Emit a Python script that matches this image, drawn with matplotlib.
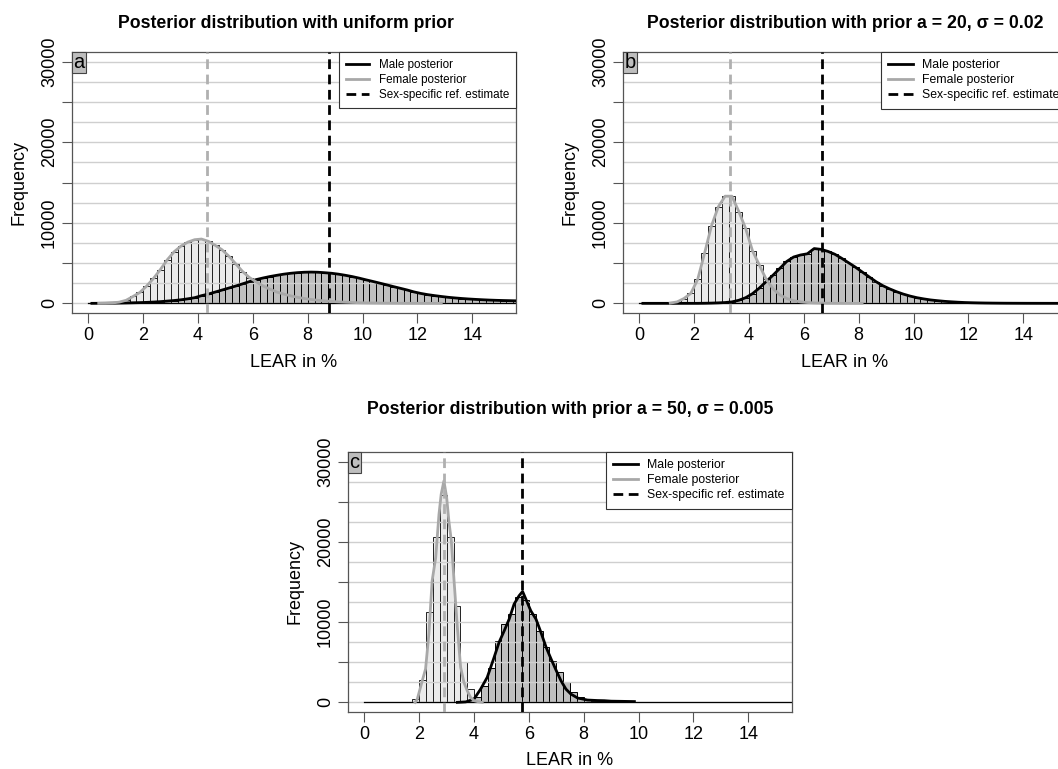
import numpy as np
import matplotlib.pyplot as plt
from matplotlib.lines import Line2D

plt.rcParams['font.family'] = ['Liberation Sans', 'DejaVu Sans']

# histogram counts, bin width 0.25 (LEAR in %), first bin left edge given by *_start
bw = 0.25

fem_a_start = 0.25
fem_a = [0, 10, 50, 150, 380, 850, 1350, 2150, 3100, 4200, 5400, 6400, 7100, 7600, 7900,
         7980, 7700, 7200, 6650, 5850, 4900, 3950, 3200, 2650, 2150, 1750, 1400, 1150, 930,
         750, 600, 480, 380, 300, 230, 180, 140, 105, 80, 60, 45, 35, 25, 18, 12, 8, 5, 3, 2, 1, 1]
male_a_start = 0.0
male_a = [0, 5, 10, 20, 35, 50, 70, 90, 120, 160, 210, 280, 350, 440, 560, 700,
          950, 1150, 1400, 1650, 1900, 2150, 2420, 2700, 2950, 3150, 3330, 3480, 3620, 3730,
          3810, 3860, 3880, 3860, 3800, 3730, 3620, 3480, 3320, 3130, 2920, 2720, 2510, 2300,
          2080, 1870, 1660, 1420, 1230, 1080, 960, 850, 750, 670, 600, 540, 490, 445, 405,
          375, 350, 330, 310, 295]

fem_b_start = 1.0
fem_b = [30, 180, 600, 1240, 2970, 6200, 9580, 11970, 13300, 13300, 11400, 9290, 6520,
         4750, 2970, 1800, 1050, 600, 330, 180, 100, 55, 30, 15, 8, 4, 2, 1, 1]
male_b_start = 0.0
male_b = [0, 0, 0, 0, 0, 0, 0, 0, 0, 10, 30, 60, 100, 180, 380, 700, 1200, 1900, 2700,
          3500, 4350, 5200, 5750, 6000, 6150, 6800, 6700, 6450, 6100, 5600, 5050, 4500, 3900,
          3300, 2700, 2200, 1800, 1450, 1150, 900, 700, 550, 420, 330, 250, 190, 140, 100, 75,
          55, 40, 30, 22, 16, 12, 9, 6, 5, 4, 3, 2, 2, 1, 1]

fem_c_start = 1.75
fem_c = [450, 2800, 11200, 20600, 25800, 20600, 12000, 5000, 1700, 300]
male_c_start = 0.0
male_c = [0, 0, 0, 0, 0, 0, 0, 0, 0, 0, 0, 0, 0, 20, 80, 250, 700, 2100, 4280, 7650, 9800,
          11000, 13070, 12740, 11000, 8920, 6850, 5190, 3730, 2490, 1250, 620, 300, 200, 150,
          120, 80, 60, 40, 20, 0, 0, 0, 0, 0, 0, 0, 0, 0, 0, 0, 0, 0, 0, 0, 0, 0, 0, 0, 0,
          0, 0, 0, 0]

# posterior density curves for panel c (frequency scale)
fem_c_line_x = [1.85, 1.93, 2.11, 2.23, 2.35, 2.47, 2.60, 2.72, 2.80, 2.90, 3.0, 3.08, 3.17,
                3.27, 3.39, 3.51, 3.63, 3.75, 3.87, 4.0, 4.15, 4.3]
fem_c_line_y = [0, 420, 2700, 4160, 8510, 15150, 18050, 23450, 25940, 27600, 25520, 22620,
                20130, 15150, 9340, 4360, 2490, 1460, 620, 210, 80, 0]
male_c_line_x = [3.39, 3.7, 4.0, 4.24, 4.48, 4.73, 4.91, 5.1, 5.28, 5.46, 5.64, 5.77, 5.89,
                 6.07, 6.26, 6.44, 6.63, 6.81, 7.0, 7.17, 7.35, 7.53, 7.78, 8.14, 8.5, 8.75,
                 9.0, 9.36, 9.85]
male_c_line_y = [0, 60, 420, 1660, 3120, 5600, 7470, 8920, 10370, 12240, 13280, 13820, 12860,
                 11410, 10370, 8720, 6850, 5400, 3950, 2700, 1660, 1040, 540, 290, 230, 210,
                 150, 130, 100]

# sex-specific reference estimates
ref_fem = [4.33, 3.32, 2.90]
ref_male = [8.76, 6.67, 5.76]

titles = ["Posterior distribution with uniform prior",
          "Posterior distribution with prior a = 20, σ = 0.02",
          "Posterior distribution with prior a = 50, σ = 0.005"]
letters = ["a", "b", "c"]
legend_labels = ["Male posterior", "Female posterior", "Sex-specific ref. estimate"]

W, H = 1058, 769
fig = plt.figure(figsize=(W / 100, H / 100), dpi=100)

def add_ax(left, top, right, bottom):
    return fig.add_axes([left / W, 1 - bottom / H, (right - left) / W, (bottom - top) / H])

boxes = [(72, 52, 516, 313), (623, 52, 1067, 313), (348, 452, 792, 712)]
title_xy = [(286, 28), (845, 28), (570, 414)]
leg_fs = [8.4, 8.8, 8.8]

fem_col = '#ebebeb'
male_col = '#bfbfbf'
fem_line = '#a8a8a8'
spine_col = '#555555'
dash = (0, (3.5, 2.0))

def poly(start, counts):
    x = start + bw * np.arange(len(counts)) + bw / 2
    return x, np.array(counts)

hist_data = [(fem_a_start, fem_a, male_a_start, male_a),
             (fem_b_start, fem_b, male_b_start, male_b),
             (fem_c_start, fem_c, male_c_start, male_c)]

for i, box in enumerate(boxes):
    ax = add_ax(*box)
    fs, fc, ms, mc = hist_data[i]
    ax.bar(fs + bw * np.arange(len(fc)), fc, width=bw, align='edge', color=fem_col,
           edgecolor='#222222', linewidth=0.7, zorder=1)
    ax.bar(ms + bw * np.arange(len(mc)), mc, width=bw, align='edge', color=male_col,
           edgecolor='black', linewidth=0.7, zorder=1.5)
    for g in np.arange(0, 30001, 2500):
        ax.axhline(g, color='#cfcfcf', lw=1.0, zorder=2)
    # bar bottoms (and empty bins) show as a flat black line along zero
    ax.plot([ms, ms + bw * len(mc)], [0, 0], color='black', lw=0.9, zorder=2.1)
    if i < 2:
        mx, my = poly(ms, mc)
        fx, fy = poly(fs, fc)
    else:
        mx, my = male_c_line_x, male_c_line_y
        fx, fy = fem_c_line_x, fem_c_line_y
    ax.plot(mx, my, color='black', lw=2.0, zorder=3, solid_joinstyle='round')
    ax.plot(fx, fy, color=fem_line, lw=2.0, zorder=3.1, solid_joinstyle='round')
    ax.axvline(ref_fem[i], color='#b0b0b0', lw=2.0, ls=dash, zorder=3.2)
    ax.axvline(ref_male[i], color='black', lw=2.0, ls=dash, zorder=3.3)

    ax.set_xlim(-0.6, 15.6)
    ax.set_ylim(-1200, 31200)
    ax.set_xticks(np.arange(0, 15, 2))
    ax.set_xticklabels([str(v) for v in range(0, 15, 2)], fontsize=13)
    ax.set_yticks(np.arange(0, 30001, 5000))
    ax.set_yticklabels(['0', '', '10000', '', '20000', '', '30000'], fontsize=13,
                       rotation=90, va='center')
    ax.tick_params(length=7, width=0.8, color=spine_col, pad=3)
    for s in ax.spines.values():
        s.set_color(spine_col)
        s.set_linewidth(0.9)

    ax.text(-53 / 444, 0.5, "Frequency", transform=ax.transAxes, rotation=90,
            ha='center', va='center', fontsize=13)
    ax.text(0.5, -49 / 261, "LEAR in %", transform=ax.transAxes,
            ha='center', va='center', fontsize=13)
    tx, ty = title_xy[i]
    fig.text(tx / W, 1 - ty / H, titles[i], ha='center', va='baseline',
             fontsize=12.7, fontweight='bold')

    ax.text(0.003, 0.997, letters[i], transform=ax.transAxes, ha='left', va='top',
            fontsize=14.5, zorder=6,
            bbox=dict(boxstyle='square,pad=0.06', fc='#bebebe', ec='#444444', lw=0.8))

    handles = [Line2D([], [], color='black', lw=2.0),
               Line2D([], [], color=fem_line, lw=2.0),
               Line2D([], [], color='black', lw=2.0, ls=dash)]
    leg = ax.legend(handles, legend_labels, loc='upper right', fontsize=leg_fs[i],
                    frameon=True, fancybox=False, framealpha=1, edgecolor='#333333',
                    borderaxespad=0, handlelength=2.0, handletextpad=0.8,
                    labelspacing=0.25, borderpad=0.6)
    leg.get_frame().set_linewidth(0.8)
    leg.set_zorder(5)

fig.savefig('out.png', dpi=100)
